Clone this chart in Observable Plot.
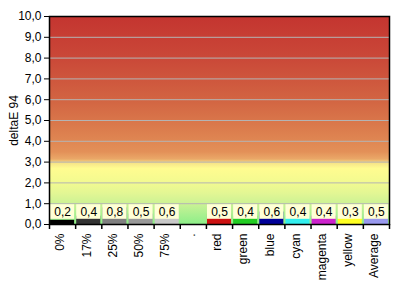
<!DOCTYPE html>
<html><head><meta charset="utf-8">
<script src="https://cdn.jsdelivr.net/npm/d3@7"></script>
<script src="https://cdn.jsdelivr.net/npm/@observablehq/plot@0.6"></script>
<style>body{margin:0;background:#fff;} svg{display:block;}</style>
</head><body>
<div id="chart"></div>
<script>
const categories = ["0%", "17%", "25%", "50%", "75%", ".", "red", "green", "blue", "cyan", "magenta", "yellow", "Average"];
const values = [0.2, 0.4, 0.8, 0.5, 0.6, null, 0.5, 0.4, 0.6, 0.4, 0.4, 0.3, 0.5];
const barColors = ["#000000", "#333333", "#808080", "#999999", "#c8c8c8", "none", "#cc1111", "#22cc22", "#000099", "#33eeee", "#cc22cc", "#ffff22", "#9999ee"];
const yTicks = [0, 1, 2, 3, 4, 5, 6, 7, 8, 9, 10];
const yLabel = "deltaE 94";
// background gradient stops: [value, color]
const bgStops = [[10, "#c43530"], [8, "#ca4838"], [6, "#d26442"], [4.5, "#dc7e4e"], [3.5, "#e39058"], [3.15, "#eaa868"],
  [2.95, "#f6e488"], [2.7, "#fffc90"], [2.0, "#f2fa90"], [1.5, "#e2f694"], [1.0, "#ccf294"], [0.5, "#aaf090"], [0, "#8cee88"]];
const labelBand = [0.25, 0.95];

const W = 397, H = 287, mL = 49, mR = 8, mT = 16, mB = 63;
const step = (W - mL - mR) / categories.length;
const data = categories.map((c, i) => ({c, v: values[i], color: barColors[i]}));
const present = data.filter(d => d.v != null);
const fmt = d => d.toFixed(1).replace(".", ",");
const font = "Arial, 'Liberation Sans', sans-serif";

const svg = Plot.plot({
  width: W, height: H,
  marginLeft: mL, marginRight: mR, marginTop: mT, marginBottom: mB,
  style: {fontFamily: font, fontSize: "11px", color: "black", background: "white"},
  x: {type: "band", domain: categories, paddingInner: 0.08, paddingOuter: 0.04, round: false},
  y: {domain: [0, 10]},
  marks: [
    Plot.frame({fill: "url(#bg)", stroke: "none"}),
    Plot.gridY(yTicks.filter(t => t > 0 && t < 10), {stroke: "#b4b4b4", strokeOpacity: 1, strokeWidth: 1}),
    Plot.barY(present, {x: "c", y: "v", fill: "color"}),
    Plot.rect(present, {x: "c", y1: () => labelBand[0], y2: () => labelBand[1], fill: "#ffffd6"}),
    Plot.text(present, {x: "c", y: () => (labelBand[0] + labelBand[1]) / 2, text: d => fmt(d.v), fontSize: 12, fill: "black"}),
    Plot.ruleX(categories, {x: d => d, y1: 0, y2: 0, dx: -step / 2, insetBottom: -5, stroke: "black", strokeWidth: 1.5}),
    Plot.ruleX([categories[categories.length - 1]], {x: d => d, y1: 0, y2: 0, dx: step / 2, insetBottom: -5, stroke: "black", strokeWidth: 1.5}),
    Plot.axisY({ticks: yTicks, tickFormat: fmt, tickSize: 5, tickPadding: 3, fontSize: 12, label: yLabel, labelAnchor: "center", labelArrow: "none", labelOffset: 40}),
    Plot.axisX({tickSize: 0, tickRotate: -90, tickPadding: 9, dx: -2, fontSize: 12, label: null}),
    Plot.frame({stroke: "black", strokeWidth: 1.5})
  ]
});

const defs = d3.select(svg).insert("defs", ":first-child");
const g = defs.append("linearGradient").attr("id", "bg").attr("x1", 0).attr("y1", 0).attr("x2", 0).attr("y2", 1);
bgStops.forEach(([v, c]) => g.append("stop").attr("offset", 1 - v / 10).attr("stop-color", c));

document.getElementById("chart").appendChild(svg);
</script>
</body></html>
